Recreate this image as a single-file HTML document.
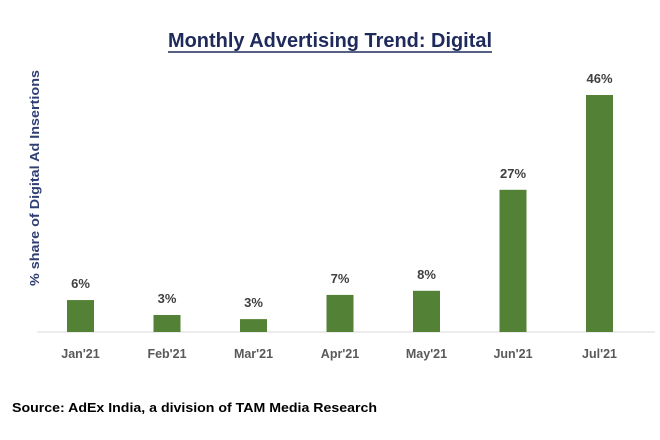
<!DOCTYPE html>
<html><head><meta charset="utf-8"><style>
html,body{margin:0;padding:0;background:#fff;width:660px;height:440px;overflow:hidden;font-family:"Liberation Sans",sans-serif}
</style></head><body>
<svg id="chart" width="660" height="440" xmlns="http://www.w3.org/2000/svg">
<text x="168" y="47" textLength="324" lengthAdjust="spacingAndGlyphs" font-size="20" font-weight="bold" fill="#1f2a5c">Monthly Advertising Trend: Digital</text>
<line x1="168" y1="52" x2="492" y2="52" stroke="#1f2a5c" stroke-width="1.5"/>
<text transform="translate(39,178) rotate(-90)" x="-108" y="0" textLength="216" lengthAdjust="spacingAndGlyphs" font-size="12.5" font-weight="bold" fill="#2f3f73">% share of Digital Ad Insertions</text>
<line x1="37" y1="332" x2="655" y2="332" stroke="#d9d9d9" stroke-width="1"/>
<g id="bars"></g>
<text x="12" y="412" textLength="365" lengthAdjust="spacingAndGlyphs" font-size="13" font-weight="bold" fill="#000">Source: AdEx India, a division of TAM Media Research</text>
</svg>
<script>
const categories=["Jan'21","Feb'21","Mar'21","Apr'21","May'21","Jun'21","Jul'21"];
const values=[6.2,3.3,2.5,7.2,8.0,27.6,46];
const labels=["6%","3%","3%","7%","8%","27%","46%"];
const baseY=332, pxPer=237/46, x0=80.5, step=86.5, bw=27;
const y=v=>baseY-v*pxPer;
const xc=i=>x0+i*step;
const g=document.getElementById('bars');
const NS='http://www.w3.org/2000/svg';
categories.forEach((c,i)=>{
  const r=document.createElementNS(NS,'rect');
  r.setAttribute('x',xc(i)-bw/2);r.setAttribute('y',y(values[i]));
  r.setAttribute('width',bw);r.setAttribute('height',baseY-y(values[i]));
  r.setAttribute('fill','#538135');
  
  
  g.appendChild(r);
  const t=document.createElementNS(NS,'text');
  t.setAttribute('x',xc(i));t.setAttribute('y',y(values[i])-12);
  t.setAttribute('text-anchor','middle');t.setAttribute('font-size','13');
  t.setAttribute('font-weight','bold');t.setAttribute('fill','#404040');
  t.textContent=labels[i];
  
  
  g.appendChild(t);
  const l=document.createElementNS(NS,'text');
  l.setAttribute('x',xc(i));l.setAttribute('y',358);
  l.setAttribute('text-anchor','middle');l.setAttribute('font-size','12.5');
  l.setAttribute('font-weight','bold');l.setAttribute('fill','#595959');
  l.textContent=c;
  
  
  g.appendChild(l);
});
</script>
</body></html>
